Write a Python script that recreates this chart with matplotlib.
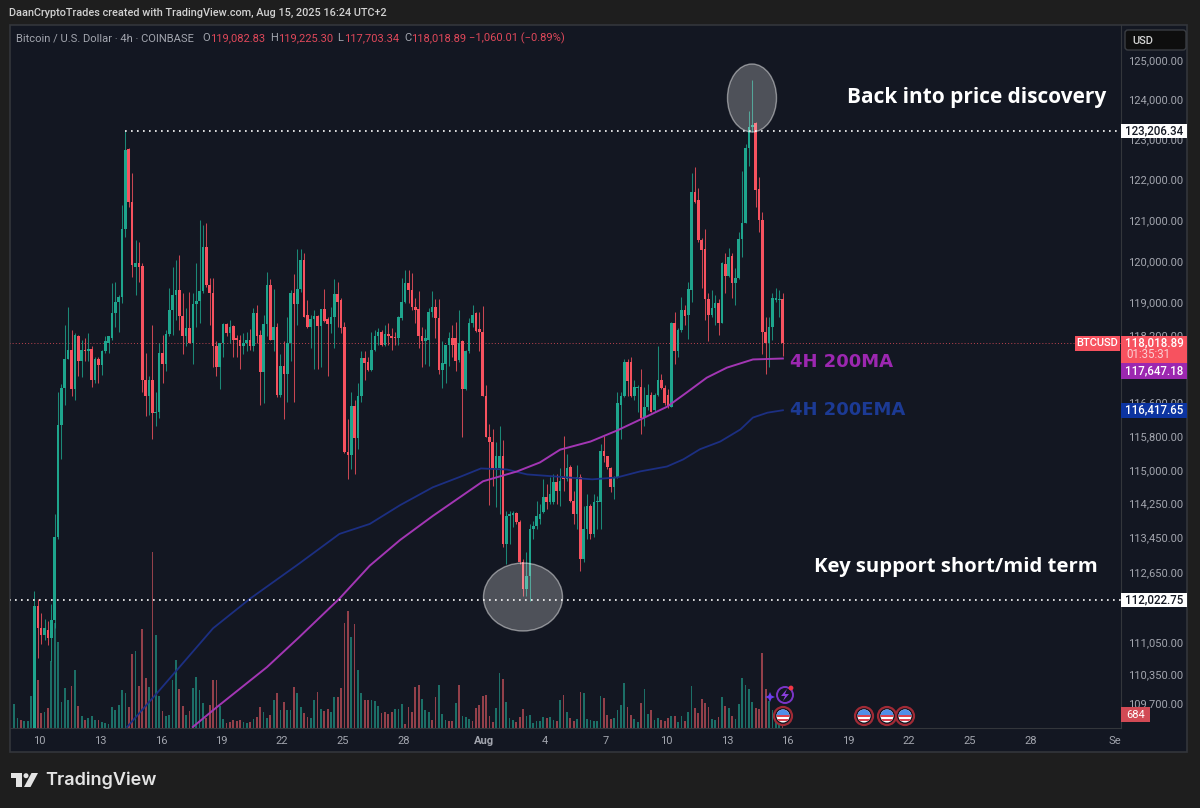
import numpy as np
import matplotlib
matplotlib.use("Agg")
import matplotlib.pyplot as plt
from matplotlib.patches import Circle, Ellipse, Polygon, Rectangle, FancyBboxPatch
from matplotlib.ticker import NullLocator
from matplotlib.transforms import Bbox

# 4h candles
opens = [
    108700, 111870, 111380, 111220, 111330, 111150, 111555, 113465, 116080, 116955,
    117625, 117860, 116910, 118195, 117580, 117860, 117815, 117885, 117145, 117625,
    117485, 117815, 118030, 118150, 118745, 119010, 119130, 120790, 122760, 121450,
    119860, 119955, 119880, 117145, 116765, 117125, 116360, 116385, 117790, 117510,
    118245, 118820, 119175, 119300, 118675, 118175, 118385, 118020, 118960, 119030,
    119275, 120350, 119420, 119225, 117935, 117435, 118030, 118480, 118270, 118435,
    118150, 118080, 117935, 118030, 118080, 117935, 118745, 118220, 117315, 118480,
    119420, 118100, 118410, 116790, 117460, 117270, 118030, 119225, 118960, 119320,
    120030, 118700, 118410, 118600, 118675, 118435, 118840, 118600, 118480, 118650,
    119200, 119056, 118410, 115425, 115355, 116525, 115755, 116745, 117650, 117555,
    117365, 117840, 118175, 118290, 117960, 118245, 118175, 118170, 118150, 118625, 119010,
    119470, 119300, 118890, 118840, 118175, 118055, 118100, 118770, 118890, 118625,
    117365, 117510, 117960, 118150, 118150, 117600, 118055, 116910, 117815, 118505,
    118745, 118360, 118290, 116765, 115780, 115660, 115050, 115050, 115330, 113305,
    113945, 113960, 114020, 113805, 112890, 112275, 112575, 113645, 113715, 113875,
    114035, 114375, 114260, 114260, 114725, 114515, 114860, 114795, 115095, 114285,
    113990, 114860, 112960, 113645, 114170, 113530, 114260,
    114260, 115450, 115330, 115070, 114610, 114840, 116550, 116745, 117555, 117555,
    116745, 116955, 116980, 116245, 116500, 116790, 116430, 116790, 117145, 116955,
    116790, 116500, 118505, 117815, 118340, 118820, 118700, 119300, 121695, 121497,
    120520, 120300, 119082, 118700, 118865, 118985, 118505, 119930, 119640, 120130,
    119470, 119590, 120545, 120935, 122785, 123320, 123420, 121770, 121010, 118290,
    118020, 118410, 119056, 119056, 119082.83,
]
highs = [
    112230, 112050, 111715, 111580, 111530, 111935, 113990, 116860, 117030, 118455,
    118890, 118340, 118270, 118220, 118100, 118150, 118270, 117935, 117695, 117675,
    117860, 118175, 118180, 119470, 119490, 119175, 121375, 123206, 122785, 122165,
    120520, 120470, 119955, 117790, 117220, 118455, 116840, 118030, 118220, 118340,
    119345, 119860, 120030, 120155, 119225, 118865, 119250, 119225, 119955, 121010,
    120885, 120935, 119590, 119590, 118055, 118030, 118505, 118505, 118575, 118440,
    118220, 118220, 118270, 118290, 118360, 118865, 118935, 118340, 118700, 119735,
    119565, 119320, 118505, 117745, 118055, 118650, 119300, 119690, 120300, 120300,
    120205, 119056, 118700, 118820, 118700, 118845, 119320, 118650, 118890, 119565,
    119490, 119105, 118530, 116220, 116840, 116670, 117075, 117815, 117815, 117675,
    118290, 118340, 118385, 118340, 118455, 118505, 118385, 118290, 118675, 119590, 119785,
    119785, 119710, 119105, 119275, 118410, 118360, 118865, 119275, 119082, 119082,
    118055, 117980, 118290, 118455, 118530, 118820, 118100, 117860, 118625, 118935,
    118770, 118770, 118910, 117005, 116100, 115965, 115660, 116035, 115705, 114055,
    114055, 114055, 114035, 113850, 112960, 113120, 113760, 113825, 114285, 114215,
    114795, 114680, 114840, 114910, 114910, 115070, 115800, 115380, 115140, 114515,
    115140, 114910, 114170, 114445, 114215, 114445, 114400,
    115615, 115800, 115335, 115075, 114865, 116860, 116840, 117625, 117625, 117695,
    117145, 117005, 117390, 116980, 117030, 116860, 116815, 117935, 117270, 117005,
    116910, 118530, 118770, 118385, 119130, 118935, 119490, 122165, 122310, 121795,
    120570, 120790, 119225, 119300, 119175, 119082, 119980, 120205, 120325, 120205,
    119835, 120715, 122215, 122885, 123700, 124490, 123445, 122065, 121205, 118650,
    118650, 119225, 119345, 119300, 119225.30,
]
lows = [
    108600, 110705, 111015, 111105, 110995, 110640, 111380, 113410, 115260, 116550,
    117625, 116745, 116670, 117220, 117195, 117580, 117580, 116980, 117075, 117075,
    117245, 117770, 117790, 118100, 118410, 118290, 118985, 120590, 121325, 119615,
    119175, 119490, 116860, 116290, 116315, 115730, 116035, 116245, 117075, 117340,
    118175, 118220, 118575, 118340, 117745, 117935, 118020, 117510, 118410, 118505,
    119225, 119370, 118455, 117435, 117220, 116910, 117695, 118175, 118020, 117695,
    117675, 117390, 117745, 117815, 117860, 117815, 118020, 116550, 116600, 118175,
    118100, 117815, 116720, 116720, 116220, 116620, 117580, 116620, 118455, 119250,
    118640, 118385, 117910, 117390, 117390, 117435, 118530, 117220, 118270, 117910,
    118410, 118270, 115420, 114795, 115025, 114910, 115500, 116620, 117145, 117340,
    117360, 117815, 117980, 117935, 117935, 117980, 117860, 117980, 117980, 118575, 118985,
    118985, 118820, 118505, 117910, 117435, 117510, 117460, 118650, 118150, 117270,
    116955, 117075, 117460, 117675, 117340, 117555, 115780, 116900, 117790, 118410,
    118290, 117815, 116745, 115775, 114195, 114630, 114150, 113990, 113235, 112845,
    113305, 113700, 113760, 112845, 112115, 112115, 112005, 113410, 113645, 113760,
    114010, 114105, 114215, 114215, 114215, 114170, 114515, 114750, 114260, 113760,
    113645, 112685, 112890, 113410, 113410, 113465, 113645,
    113645, 115210, 115025, 114495, 114330, 114835, 115730, 116740, 116745, 116740,
    116670, 116385, 115850, 116035, 116430, 116380, 116385, 116745, 116910, 116550,
    116480, 116500, 117510, 117675, 118290, 118455, 118125, 119010, 121425, 120470,
    119345, 118575, 118055, 118650, 118455, 118220, 118505, 119225, 119615, 119105,
    118935, 119565, 120105, 120935, 122335, 123195, 121325, 120715, 117745, 117270,
    117435, 118100, 119010, 118650, 117703.34,
]
closes = [
    111870, 111375, 111220, 111380, 111150, 111555, 113465, 116080, 116955, 117625,
    117860, 116910, 118220, 117580, 117860, 117815, 117885, 117145, 117625, 117485,
    117815, 118055, 118175, 118745, 119010, 119130, 120790, 122740, 121450, 119905,
    119955, 119860, 117145, 116765, 117125, 116360, 116385, 117790, 117510, 118245,
    118820, 119175, 119300, 118675, 118175, 118385, 118020, 118960, 119030, 119275,
    120350, 119420, 119225, 117935, 117435, 118020, 118480, 118270, 118410, 118100,
    118080, 117935, 118020, 118080, 117935, 118745, 118195, 117315, 118480, 119420,
    118100, 118410, 116790, 117460, 117270, 118030, 119225, 118960, 119320, 120030,
    118650, 118410, 118600, 118675, 118435, 118840, 118550, 118480, 118650, 119200,
    119010, 118385, 115425, 115355, 116525, 115755, 116745, 117650, 117530, 117365,
    117840, 118175, 118290, 117960, 118245, 118175, 118150, 118140, 118650, 119010, 119470,
    119300, 118890, 118820, 118175, 118055, 118150, 118770, 118890, 118625, 117365,
    117530, 117960, 118150, 117960, 117580, 118030, 116910, 117815, 118505, 118700,
    118315, 118290, 116765, 115780, 115660, 115070, 115330, 115330, 113305, 113945,
    113990, 114020, 113805, 112890, 112275, 112575, 113645, 113715, 113945, 113990,
    114375, 114260, 114445, 114725, 114515, 114750, 114795, 115070, 114285, 113990,
    114860, 112960, 113645, 114170, 113530, 114260, 114285,
    115450, 115330, 115095, 114610, 114860, 116600, 116745, 117555, 117100, 116745,
    116980, 116980, 116245, 116500, 116790, 116385, 116790, 117145, 116955, 116600,
    116500, 118505, 117815, 118340, 118820, 118675, 119320, 121695, 121450, 120520,
    120275, 119082, 118700, 118865, 118985, 118505, 119955, 119640, 120105, 119470,
    119590, 120545, 120935, 122785, 123320, 123370, 121745, 121010, 118290, 118020,
    118410, 119105, 119105, 119082, 118018.89,
]

# volume per bar, sign gives the bar direction (negative = down bar)
volumes = [
    1190, 490, -390, 330, 330, 1580, 2450, -2370, -740, 770, -980, 3280, 5150, 4210,
    1270, 1960, 1390, -2040, 2830, -1090, 570, -380, 490, 600, 380, -380, 310, 245, 210,
    1010, 870, 1140, 1850, 1720, -1010, -3630, 3760, -2040, -4870, -2430, 2010, -8620, 4570,
    1580, -820, 570, 650, 2340, 3350, -1930, -1060, 620, -820, 1960, 2500, 1850, 1220, -490,
    -1130, -2340, -2370, 1060, 460, -245, -310, -380, -330, -380, 290, 245, -310, 460, -540,
    -1030, 770, 490, -620, 1390, -1720, 870, -1270, 870, 900, -2010, 1720, 1030, -740, -540,
    510, 1390, -1780, 950, -850, -930, 780, 1520, -1540, -1980, -5150, -5720, 4460, -5110,
    2860, 1720, -1390, -1390, 1390, 1310, 1090, -740, -770, -700, -770, 950, 950,
    1190, -215, -1030, -770, -2010, -2110, 1440, 870, 780, -410, -1520, 2110, 700, 410, -360,
    -330, 1220, -2110, 600, 540, 460, -330, -1000, -1130, -1580, -1630, -600, -300, 960, 2700, -2420,
    1270, 510, 380, -310, -540, -950, 600, 640, 245, 330, 360, 560, -470, 560, 380, -330,
    1360, -1620, 770, -490, -360, 440, -1760, 1720, 460, 380, 360, 360, 1580, -1490, -640,
    -460, 470, 870, 1130, 2200, -1030, -640, 460, 310, -1220, 1930, 690, -870, 410, 470, -380,
    -360, -470, 590, -600, 280, 600, -330, 780, 2070, -1000, -740, -1420, -1240, -1030, 460,
    410, -520, 1520, -1080, 960, -600, 440, 1190, 2470, 2090, 1930, 1260, -1000, -930, -3680,
    -1910, 1320, 870, 600, 490, -684,
]

# moving averages: bar number (bars after Jul 10) and value
ma200_bars = [45.5, 52.7, 67.5, 77, 89, 98, 107, 116.7, 131.6, 141.7, 148.5, 154.5, 163.5,
              171.4, 178.2, 186.2, 192, 198, 204, 211.7, 220.6]
ma200_vals = [109165, 109610, 110500, 111170, 112048, 112800, 113390, 113945, 114750, 114980, 115190,
              115490, 115680, 115940, 116195, 116500, 116835, 117190, 117430, 117625, 117647.18]
ema200_bars = [26, 35, 51.5, 62.5, 77, 89, 98, 107, 116.7, 125, 131, 138.7, 144.7, 153.5, 164,
               171.4, 178.2, 186.2, 191, 196, 202, 208, 211.7, 216, 220.6]
ema200_vals = [109165, 109930, 111375, 112048, 112845, 113530, 113760, 114195, 114610, 114860,
               115050, 115025, 114910, 114860, 114795, 114840, 114980, 115095, 115260, 115500,
               115680, 115965, 116245, 116360, 116417.65]

price_ticks = [125000, 124000, 123000, 122000, 121000, 120000, 119000, 118200, 116600, 115800,
               115000, 114250, 113450, 112650, 111050, 110350, 109700]
date_ticks = [0, 18, 36, 54, 72, 90, 108, 132, 150, 168, 186, 204, 222, 240, 258, 276, 294, 320]
date_labels = ["10", "13", "16", "19", "22", "25", "28", "Aug", "4", "7", "10", "13", "16",
               "19", "22", "25", "28", "Sep"]

ath_level = 123206.34
support_level = 112022.75
last_price = 118018.89

BG = "#1e1e1e"
PANE = "#131722"
BORDER = "#33363b"
UP = "#1ea58d"
DOWN = "#f7525f"
UP_VOL = "#1c6f67"
DOWN_VOL = "#93404a"
PURPLE = "#9c27b0"
BLUE = "#1c2f82"
FONT = "Roboto"

W, H = 1200, 808
fig = plt.figure(figsize=(W / 100, H / 100), dpi=100, facecolor=BG)


def px_axes(zorder):
    a = fig.add_axes([0, 0, 1, 1], zorder=zorder)
    a.set_xlim(0, W)
    a.set_ylim(H, 0)
    a.axis("off")
    a.patch.set_alpha(0)
    return a


# panes behind everything
under = px_axes(-5)
under.add_patch(Rectangle((9.5, 24.5), 1177.5, 727.5, fc=PANE, ec=BORDER, lw=1.2))

# price pane
ax = fig.add_axes([10 / W, (H - 728) / H, 1111 / W, 703 / H], zorder=2)
axv = ax.twinx()
axv.set_zorder(1)
ax.set_zorder(2)
ax.patch.set_alpha(0)
axv.patch.set_alpha(0)

n = len(closes)
bars = np.arange(n) - n + 221.5
o, h, l, c = map(np.array, (opens, highs, lows, closes))
is_up = c >= o
colors = np.where(is_up, UP, DOWN)

ax.vlines(bars, l, h, colors=colors, lw=0.75, alpha=0.8, zorder=3)
ax.bar(bars, np.maximum(np.abs(c - o), 12), bottom=np.minimum(o, c), width=0.78,
       color=colors, lw=0, zorder=4)

ax.plot(ema200_bars, ema200_vals, color=BLUE, lw=1.3, zorder=5)
ax.plot(ma200_bars, ma200_vals, color="#a336b4", lw=1.4, zorder=5)

ax.hlines(last_price, -9, 321, color=DOWN, lw=0.7, ls=(0, (1, 2.2)), alpha=0.75, zorder=2)
ax.hlines(ath_level, bars[27], 321, color="white", lw=1.2, ls=(0, (1, 2.6)), zorder=6)
ax.hlines(support_level, -9, 321, color="white", lw=1.2, ls=(0, (1, 2.6)), zorder=6)

ax.set_xlim((10 - 39.5) / 3.37, (1121 - 39.5) / 3.37)
ax.set_yscale("log")
ax.set_ylim(109142, 125892)
ax.yaxis.tick_right()
ax.set_yticks(price_ticks, [f"{p:,.2f}" for p in price_ticks])
ax.yaxis.set_minor_locator(NullLocator())
ax.set_xticks(date_ticks, date_labels)
ax.tick_params(axis="y", length=0, pad=5, labelcolor="#a3a6af", labelsize=8, labelfontfamily=FONT)
ax.tick_params(axis="x", length=0, pad=6, labelcolor="#a3a6af", labelsize=8, labelfontfamily=FONT)
for lab in ax.get_xticklabels():
    if lab.get_text() == "Aug":
        lab.set_fontweight("bold")
    if lab.get_text() == "Sep":
        lab.set_clip_on(True)
        lab.set_clip_box(Bbox([[0, 0], [1121, H]]))
for s in ax.spines.values():
    s.set_visible(False)
ax.spines["bottom"].set_visible(True)
ax.spines["right"].set_visible(True)
ax.spines["bottom"].set_color(BORDER)
ax.spines["right"].set_color(BORDER)

# volume overlay at the bottom of the pane
vols = np.array(volumes)
vol_bars = np.arange(len(vols)) - len(vols) + 221.5
axv.bar(vol_bars, np.abs(vols), width=0.52, lw=0,
        color=np.where(vols >= 0, UP_VOL, DOWN_VOL))
axv.set_ylim(0, 703 * 49)
axv.set_axis_off()

# everything drawn on top, in picture pixels
ov = px_axes(10)


def y_of(price):
    return H - ax.transData.transform((0, price))[1]


def price_tag(price, label, fc, tc="white", height=15):
    y = y_of(price)
    ov.add_patch(Rectangle((1121, y - height / 2), 66, height, fc=fc, ec="none"))
    ov.text(1154, y, label, color=tc, fontsize=8.3, family=FONT, weight="medium",
            ha="center", va="center")


ov.add_patch(Ellipse((752, 98), 49, 68, fc=(1, 1, 1, 0.25), ec=(1, 1, 1, 0.45), lw=1))
ov.add_patch(Ellipse((523, 597), 79, 68, fc=(1, 1, 1, 0.25), ec=(1, 1, 1, 0.45), lw=1))

ov.text(9, 13, "DaanCryptoTrades created with TradingView.com, Aug 15, 2025 16:24 UTC+2",
        color="#d2d2d2", fontsize=7.8, family=FONT, weight="medium", va="center")

GREY = "#a3a6af"
RED = "#e0485a"
legend_parts = [
    (16, "Bitcoin / U.S. Dollar · 4h · COINBASE", GREY),
    (202, "O", GREY), (210, "119,082.83", RED),
    (270, "H", GREY), (278, "119,225.30", RED),
    (337, "L", GREY), (344, "117,703.34", RED),
    (404, "C", GREY), (411, "118,018.89", RED),
    (469, "−1,060.01 (−0.89%)", RED),
]
for x, txt, col in legend_parts:
    ov.text(x, 38, txt, color=col, fontsize=8, family=FONT, va="center")

ov.text(847, 98, "Back into price discovery", color="white", fontsize=15, family="Open Sans",
        weight="bold", va="center")
ov.text(814, 567, "Key support short/mid term", color="white", fontsize=14.6, family="Open Sans",
        weight="bold", va="center")
ov.text(790, 362, "4H 200MA", color=PURPLE, fontsize=13, family="DejaVu Sans", va="center",
        weight="bold")
ov.text(790, 410, "4H 200EMA", color="#1c3a94", fontsize=13, family="DejaVu Sans", va="center",
        weight="bold")

# USD button and price scale tags
ov.add_patch(FancyBboxPatch((1125, 30), 61, 20, boxstyle="round,pad=0,rounding_size=3",
                            fc="#0e0e0e", ec="#3a3d42", lw=1))
ov.text(1132, 40.5, "USD", color="#d5d5d5", fontsize=8, family=FONT, weight="medium", va="center")

price_tag(ath_level, "123,206.34", "white", "#131722", 14)
price_tag(support_level, "112,022.75", "white", "#131722", 14)

# last price block with countdown
ov.add_patch(Rectangle((1075, 336), 45, 15, fc=DOWN, ec="none"))
ov.text(1097.5, 343.5, "BTCUSD", color="white", fontsize=8, family=FONT, weight="medium",
        ha="center", va="center")
ov.add_patch(Rectangle((1121, 336), 66, 27.5, fc=DOWN, ec="none"))
ov.text(1154, 343, "118,018.89", color="white", fontsize=8.3, family=FONT, weight="medium",
        ha="center", va="center")
ov.text(1148, 355, "01:35:31", color="#fbd0d4", fontsize=8.3, family=FONT, ha="center", va="center")

ov.add_patch(Rectangle((1121, 363), 66, 15.5, fc=PURPLE, ec="none"))
ov.text(1154, 370.5, "117,647.18", color="white", fontsize=8.3, family=FONT, weight="medium",
        ha="center", va="center")
price_tag(116417.65, "116,417.65", "#0c34a0", "white", 15)

ov.add_patch(Rectangle((1121, 707), 29, 15, fc="#d24a55", ec="none"))
ov.text(1135.5, 714.5, "684", color="white", fontsize=8, family=FONT, ha="center", va="center")


def flag(x, y=716):
    ov.add_patch(Circle((x, y), 9, fc="#131722", ec="#a02a35", lw=1.6))
    disc = Circle((x, y), 6.5, fc="white", ec="none")
    ov.add_patch(disc)
    for dy in (-1.2, 3):
        r = Rectangle((x - 7, y + dy), 14, 1.7, fc="#d8424e", ec="none")
        ov.add_patch(r)
        r.set_clip_path(disc)
    canton = Rectangle((x - 7, y - 7), 14, 6, fc="#4f8fe8", ec="none")
    ov.add_patch(canton)
    canton.set_clip_path(disc)


for fx in (783, 864, 887, 905):
    flag(fx)

# earnings style icon above the first flag
ov.add_patch(Circle((785, 695), 8, fc="none", ec="#7a35c8", lw=1.4))
ov.add_patch(Polygon([(787, 689), (781, 696), (785, 696), (783, 701), (789, 694), (785, 694)],
                     fc="#8a3fdc", ec="none"))
ov.add_patch(Polygon([(770, 692), (771.5, 695.5), (775, 697), (771.5, 698.5), (770, 702),
                      (768.5, 698.5), (765, 697), (768.5, 695.5)], fc="#6a3df0", ec="none"))
ov.add_patch(Circle((791, 688), 2.4, fc="#f23645", ec="none"))

# logo
ov.add_patch(Polygon([(11, 773), (22, 773), (22, 787), (16, 787), (16, 778), (11, 778)],
                     fc="#e4e4e4", ec="none"))
ov.add_patch(Circle((26, 775.7), 2.5, fc="#e4e4e4", ec="none"))
ov.add_patch(Polygon([(31.5, 773), (38, 773), (30.5, 787), (24, 787)], fc="#e4e4e4", ec="none"))
ov.text(45, 780.5, "TradingView", color="#e4e4e4", fontsize=13, family="Inter", weight="semibold",
        va="center")

fig.savefig("out.png", dpi=100, facecolor=BG)
